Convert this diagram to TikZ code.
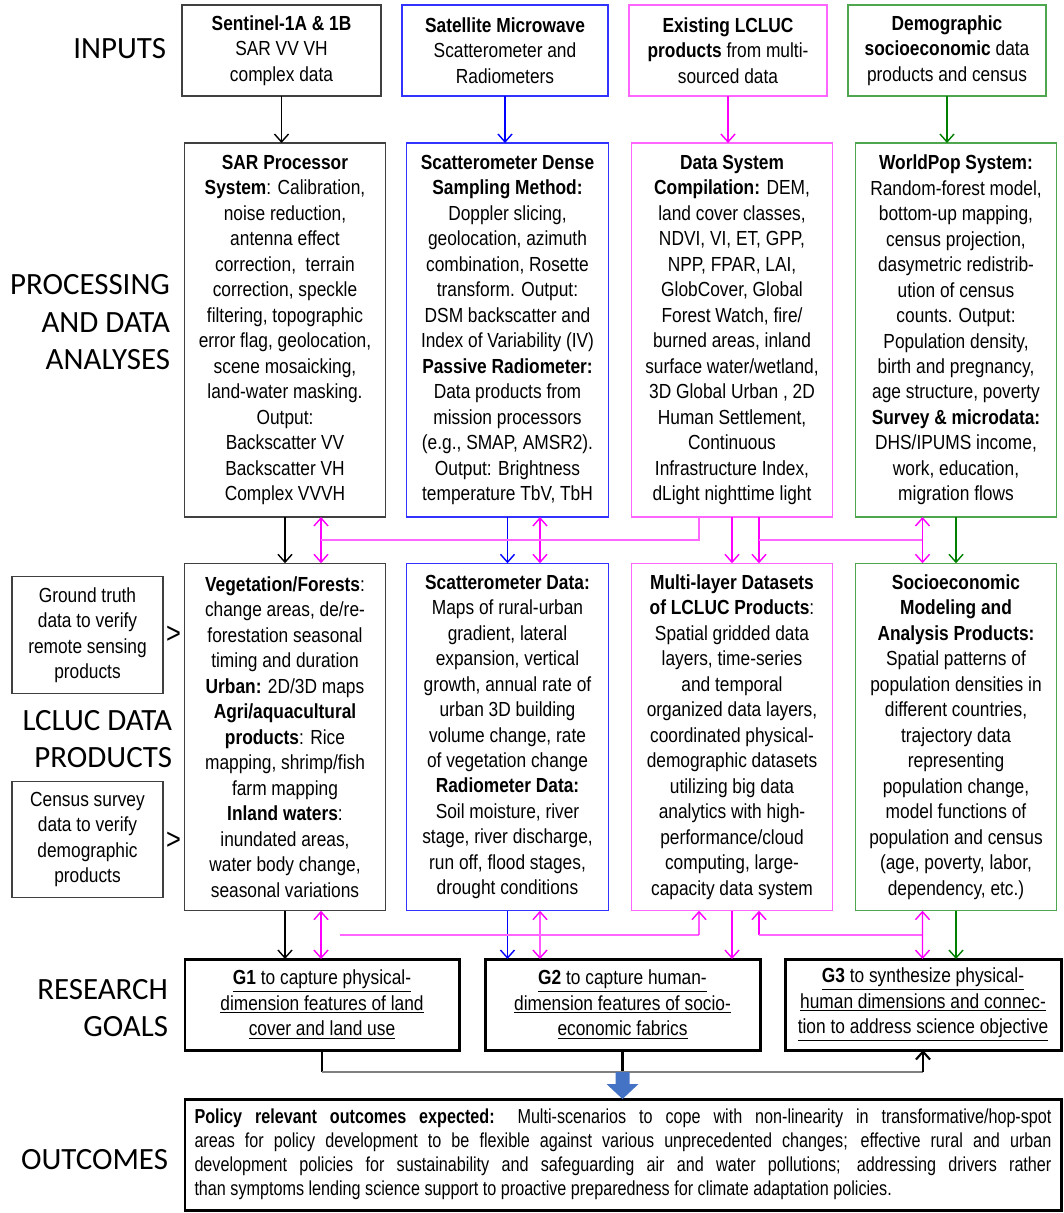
\documentclass[tikz,border=0pt]{standalone}
\usepackage{fontspec}
\setmainfont{Liberation Sans}[FakeStretch=0.85]
\newfontfamily\outfont{Liberation Sans}[FakeStretch=0.80]
\newfontfamily\capsfont{Carlito}
\usetikzlibrary{arrows.meta,calc}
\definecolor{sarline}{HTML}{404040}
\definecolor{scatline}{HTML}{3333FF}
\definecolor{lclucline}{HTML}{FF66FF}
\definecolor{lclucarrow}{HTML}{FF00FF}
\definecolor{popline}{HTML}{4EA64E}
\definecolor{poparrow}{HTML}{008000}
\definecolor{outblue}{HTML}{4472C4}

\begin{document}
\begin{tikzpicture}[line join=miter,
    every node/.style={align=center, outer sep=0pt, inner sep=0pt, font=\fontsize{11.6}{14.5}\selectfont},
    box/.style={draw, line width=0.8pt, minimum width=4.03cm},
    inbox/.style={box, minimum height=1.82cm},
    procbox/.style={box, minimum height=7.48cm},
    prodbox/.style={box, minimum height=6.95cm},
    goalbox/.style={draw, line width=1.7pt, minimum height=1.82cm},
    sidebox/.style={draw=sarline, line width=0.8pt, minimum width=3.02cm, minimum height=2.33cm},
    rowlabel/.style={font=\capsfont\fontsize{17.6}{21.3}\selectfont, align=right, anchor=east},
    arr/.style={-{Straight Barb[length=4.5pt,width=8pt]}, line width=0.8pt},
    darr/.style={{Straight Barb[length=4.5pt,width=8pt]}-{Straight Barb[length=4.5pt,width=8pt]}, line width=0.8pt},
    bus/.style={lclucline, line width=0.8pt}]
    \useasboundingbox (0,0) rectangle (21.26,-24.26);

    % row labels
    \node[rowlabel] (lInputs) at (3.32,-0.97) {INPUTS};
    \node[rowlabel] (lProc) at (3.40,-6.45) {PROCESSING\\AND DATA\\ANALYSES};
    \node[rowlabel] (lProd) at (3.44,-14.78) {LCLUC DATA\\PRODUCTS};
    \node[rowlabel] (lGoals) at (3.36,-20.16) {RESEARCH\\GOALS};
    \node[rowlabel] (lOut) at (3.36,-23.20) {OUTCOMES};

    % inputs
    \node[inbox, draw=sarline, minimum width=3.98cm] (sarIn) at (5.63,-1.01) {\textbf{Sentinel-1A \& 1B}\\SAR VV VH\\complex data};
    \node[inbox, draw=scatline, minimum width=4.12cm] (scatIn) at (10.10,-1.01) {\textbf{Satellite Microwave}\\Scatterometer and\\Radiometers};
    \node[inbox, draw=lclucline, minimum width=3.96cm] (lclucIn) at (14.56,-1.01) {\textbf{Existing LCLUC}\\\textbf{products} from multi-\\sourced data};
    \node[inbox, draw=popline, minimum width=3.96cm] (popIn) at (18.94,-1.01) {\textbf{Demographic}\\\textbf{socioeconomic} data\\products and census};

    % processing
    \node[procbox, draw=sarline] (sarProc) at (5.70,-6.60) {\textbf{SAR Processor}\\\textbf{System}: Calibration,\\noise reduction,\\antenna effect\\correction,\ \ terrain\\correction, speckle\\filtering, topographic\\error flag, geolocation,\\scene mosaicking,\\land-water masking.\\Output:\\Backscatter VV\\Backscatter VH\\Complex VVVH};
    \node[procbox, draw=scatline] (scatProc) at (10.15,-6.60) {\textbf{Scatterometer Dense}\\\textbf{Sampling Method:}\\Doppler slicing,\\geolocation, azimuth\\combination, Rosette\\transform. Output:\\DSM backscatter and\\Index of Variability (IV)\\\textbf{Passive Radiometer:}\\Data products from\\mission processors\\(e.g., SMAP, AMSR2).\\Output: Brightness\\temperature TbV, TbH};
    \node[procbox, draw=lclucline] (lclucProc) at (14.64,-6.60) {\textbf{Data System}\\\textbf{Compilation:} DEM,\\land cover classes,\\NDVI, VI, ET, GPP,\\NPP, FPAR, LAI,\\GlobCover, Global\\Forest Watch, fire/\\burned areas, inland\\surface water/wetland,\\3D Global Urban , 2D\\Human Settlement,\\Continuous\\Infrastructure Index,\\dLight nighttime light};
    \node[procbox, draw=popline] (popProc) at (19.12,-6.60) {\textbf{WorldPop System:}\\Random-forest model,\\bottom-up mapping,\\census projection,\\dasymetric redistrib-\\ution of census\\counts. Output:\\Population density,\\birth and pregnancy,\\age structure, poverty\\\textbf{Survey \& microdata:}\\DHS/IPUMS income,\\work, education,\\migration flows};

    % products
    \node[prodbox, draw=sarline] (sarProd) at (5.70,-14.74) {\textbf{Vegetation/Forests}:\\change areas, de/re-\\forestation seasonal\\timing and duration\\\textbf{Urban:} 2D/3D maps\\\textbf{Agri/aquacultural}\\\textbf{products}: Rice\\mapping, shrimp/fish\\farm mapping\\\textbf{Inland waters}:\\inundated areas,\\water body change,\\seasonal variations};
    \node[prodbox, draw=scatline] (scatProd) at (10.15,-14.74) {\textbf{Scatterometer Data:}\\Maps of rural-urban\\gradient, lateral\\expansion, vertical\\growth, annual rate of\\urban 3D building\\volume change, rate\\of vegetation change\\\textbf{Radiometer Data:}\\Soil moisture, river\\stage, river discharge,\\run off, flood stages,\\drought conditions};
    \node[prodbox, draw=lclucline] (lclucProd) at (14.64,-14.74) {\textbf{Multi-layer Datasets}\\\textbf{of LCLUC Products}:\\Spatial gridded data\\layers, time-series\\and temporal\\organized data layers,\\coordinated physical-\\demographic datasets\\utilizing big data\\analytics with high-\\performance/cloud\\computing, large-\\capacity data system};
    \node[prodbox, draw=popline] (popProd) at (19.12,-14.74) {\textbf{Socioeconomic}\\\textbf{Modeling and}\\\textbf{Analysis Products:}\\Spatial patterns of\\population densities in\\different countries,\\trajectory data\\representing\\population change,\\model functions of\\population and census\\(age, poverty, labor,\\dependency, etc.)};

    % verification inputs
    \node[sidebox] (truth) at (1.75,-12.70) {Ground truth\\data to verify\\remote sensing\\products};
    \node[sidebox] (census) at (1.75,-16.79) {Census survey\\data to verify\\demographic\\products};
    \node (truthMark) at (3.47,-12.70) {\fontsize{17}{17}\selectfont >};
    \node (censusMark) at (3.47,-16.81) {\fontsize{17}{17}\selectfont >};

    % goals
    \node[goalbox, minimum width=5.48cm] (g1) at (6.44,-20.09) {\underline{\textbf{G1} to capture physical-}\\\underline{dimension features of land}\\\underline{cover and land use}};
    \node[goalbox, minimum width=5.50cm] (g2) at (12.45,-20.09) {\underline{\textbf{G2} to capture human-}\\\underline{dimension features of socio-}\\\underline{economic fabrics}};
    \node[goalbox, minimum width=5.52cm] (g3) at (18.46,-20.09) {\underline{\textbf{G3} to synthesize physical-}\\\underline{human dimensions and connec-}\\\underline{tion to address science objective}};

    % outcomes
    \node[draw, line width=1.7pt, minimum width=17.52cm, minimum height=2.22cm, text width=17.14cm, align=justify, font=\outfont\fontsize{11.5}{13.6}\selectfont] (out) at (12.46,-23.09) {\textbf{Policy relevant outcomes expected:} Multi-scenarios to cope with non-linearity in transformative/hop-spot\linebreak areas for policy development to be flexible against various unprecedented changes; effective rural and urban\linebreak development policies for sustainability and safeguarding air and water pollutions; addressing drivers rather\linebreak than symptoms lending science support to proactive preparedness for climate adaptation policies.};

    \coordinate (busA) at ($(sarProc.south)!0.5!(sarProd.north)$);
    \coordinate (busB) at ($(sarProd.south)!0.5!(g1.north)$);
    \coordinate (busC) at ($(g1.south)+(0,-0.44)$);

    % inputs to processing
    \draw[arr] (sarIn.south) -- (sarIn.south |- sarProc.north);
    \draw[arr, blue] (scatIn.south) -- (scatIn.south |- scatProc.north);
    \draw[arr, lclucarrow] (lclucIn.south) -- (lclucIn.south |- lclucProc.north);
    \draw[arr, poparrow] (popIn.south) -- (popIn.south |- popProc.north);

    % processing to products
    \draw[arr] (sarProc.south) -- (sarProd.north);
    \draw[darr, lclucarrow] ([xshift=0.72cm]sarProc.south) -- ([xshift=0.72cm]sarProd.north);
    \draw[arr, blue] (scatProc.south) -- (scatProd.north);
    \draw[darr, lclucarrow] ([xshift=0.65cm]scatProc.south) -- ([xshift=0.65cm]scatProd.north);
    \draw[bus] ([xshift=-0.66cm]lclucProc.south) |- ($(busA)+(0.72,0)$);
    \draw[arr, lclucarrow] (lclucProc.south) -- (lclucProd.north);
    \draw[arr, lclucarrow] ([xshift=0.54cm]lclucProc.south) -- ([xshift=0.54cm]lclucProd.north);
    \draw[bus] ($(lclucProc.south |- busA)+(0.54,0)$) -- ($(popProc.south |- busA)+(-0.67,0)$);
    \draw[darr, lclucarrow] ([xshift=-0.67cm]popProc.south) -- ([xshift=-0.67cm]popProd.north);
    \draw[arr, poparrow] (popProc.south) -- (popProd.north);

    % products to goals
    \draw[arr] (sarProd.south) -- (sarProd.south |- g1.north);
    \draw[darr, lclucarrow] ([xshift=0.72cm]sarProd.south) -- ($(sarProd.south |- g1.north)+(0.72,0)$);
    \draw[arr, blue] (scatProd.south) -- (scatProd.south |- g2.north);
    \draw[darr, lclucarrow] ([xshift=0.65cm]scatProd.south) -- ($(scatProd.south |- g2.north)+(0.65,0)$);
    \draw[bus] ($(busB)+(0.72,0)$) -- ($(lclucProd.south |- busB)+(-0.66,0)$);
    \draw[arr, lclucarrow] ($(lclucProd.south |- busB)+(-0.66,0)$) -- ([xshift=-0.66cm]lclucProd.south);
    \draw[arr, lclucarrow] (lclucProd.south) -- (lclucProd.south |- g2.north);
    \draw[arr, lclucarrow] ($(lclucProd.south |- busB)+(0.54,0)$) -- ([xshift=0.54cm]lclucProd.south);
    \draw[bus] ($(lclucProd.south |- busB)+(0.54,0)$) -- ($(popProd.south |- busB)+(-0.67,0)$);
    \draw[darr, lclucarrow] ([xshift=-0.67cm]popProd.south) -- ($(popProd.south |- g3.north)+(-0.67,0)$);
    \draw[arr, poparrow] (popProd.south) -- (popProd.south |- g3.north);

    % goals to outcomes
    \draw[line width=1.2pt] (g1.south) -- (g1.south |- busC);
    \draw[line width=1.2pt] (g2.south) -- (g2.south |- busC);
    \draw[gray, line width=1.2pt] (g1.south |- busC) -- (g3.south |- busC);
    \draw[arr, line width=1.2pt] (g3.south |- busC) -- (g3.south);
    \fill[outblue] ($(g2.south |- busC)+(-0.14,0)$) -- ++(0,-0.24) -- ++(-0.18,0) -- ++(0.32,-0.30) -- ++(0.32,0.30) -- ++(-0.18,0) -- ++(0,0.24) -- cycle;
\end{tikzpicture}
\end{document}
